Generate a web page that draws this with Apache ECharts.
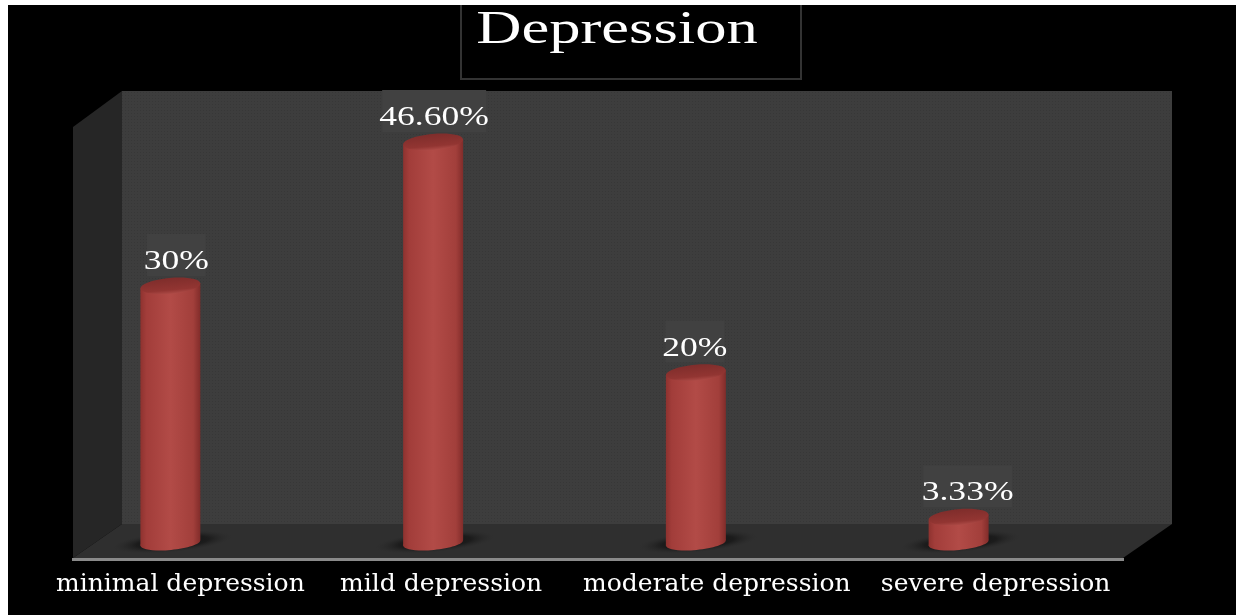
<!DOCTYPE html>
<html>
<head>
<meta charset="utf-8">
<style>html,body{margin:0;padding:0;background:#fff;overflow:hidden}#c{position:absolute;left:8px;top:5px;width:1228px;height:610px;}</style>
<script src="https://cdn.jsdelivr.net/npm/echarts@6/dist/echarts.min.js"></script>
</head>
<body>
<div id="c"></div>
<script>
const titleText = 'Depression';
const categories = ['minimal depression', 'mild depression', 'moderate depression', 'severe depression'];
const values = [30, 46.6, 20, 3.33];
const valueLabels = ['30%', '46.60%', '20%', '3.33%'];
const labelNudge = [6, 1, -1, 9];
const categoryNudge = [10, 8, 21, 37];

const OX = 8, OY = 5; // page offset of chart container
const px = (x) => x - OX, py = (y) => y - OY;
const serif = '"DejaVu Serif", serif';
const thinSerif = '"Liberation Serif", serif';

function dotPattern() {
  const c = document.createElement('canvas');
  c.width = 3; c.height = 3;
  const g = c.getContext('2d');
  g.fillStyle = '#3d3d3d'; g.fillRect(0, 0, 3, 3);
  g.fillStyle = '#373737'; g.fillRect(0, 0, 1, 1);
  return c;
}
const poly = (pts, fill) => ({
  type: 'polygon', silent: true, z: 0,
  shape: { points: pts.map(p => [px(p[0]), py(p[1])]) },
  style: { fill }
});

const bodyGrad = { type: 'linear', x: 0, y: 0, x2: 1, y2: 0, colorStops: [
  { offset: 0, color: '#8e322f' }, { offset: 0.1, color: '#a23d3a' },
  { offset: 0.5, color: '#b24b47' }, { offset: 0.88, color: '#a23f3b' }, { offset: 1, color: '#812c2a' } ] };
const capGrad = { type: 'linear', x: 0, y: 0, x2: 0, y2: 1, colorStops: [
  { offset: 0, color: '#7f2d2b' }, { offset: 0.75, color: '#923532' }, { offset: 1, color: '#ad4a46' } ] };
const shadowGrad = { type: 'radial', x: 0.5, y: 0.5, r: 0.5, colorStops: [
  { offset: 0, color: 'rgba(8,8,8,0.8)' }, { offset: 0.6, color: 'rgba(12,12,12,0.55)' }, { offset: 1, color: 'rgba(40,40,40,0)' } ] };

function renderCylinder(params, api) {
  const i = params.dataIndex;
  const val = api.value(1);
  const top = api.coord([api.value(0), val]);
  const base = api.coord([api.value(0), 0]);
  const cx = top[0], rx = 30, ry = 8;
  const yTop = top[1], yBot = base[1] - 3;
  const tilt = 0.09;
  const rise = rx * Math.sin(tilt);
  const text = valueLabels[i];
  const lx = cx + labelNudge[i], ly = yTop - 24;
  const patchW = text.length * 15 + 14;
  return {
    type: 'group',
    children: [
      { type: 'circle', rotation: tilt, scaleY: 0.17, originX: cx + 2, originY: yBot - 1,
        shape: { cx: cx + 2, cy: yBot - 1, r: 60 }, style: { fill: shadowGrad } },
      { type: 'ellipse', rotation: tilt, originX: cx, originY: yBot, shape: { cx, cy: yBot, rx, ry: 7 }, style: { fill: bodyGrad } },
      { type: 'polygon', shape: { points: [[cx - rx, yTop + rise], [cx + rx, yTop - rise], [cx + rx, yBot - rise], [cx - rx, yBot + rise]] }, style: { fill: bodyGrad } },
      { type: 'ellipse', rotation: tilt, originX: cx, originY: yTop, shape: { cx, cy: yTop, rx, ry }, style: { fill: capGrad } },
      { type: 'rect', shape: { x: lx - patchW / 2, y: ly - 28, width: patchW, height: 42 }, style: { fill: '#414141' } },
      { type: 'text', scaleX: 1.27, originX: lx, originY: ly,
        style: { text, x: lx, y: ly, fill: '#ffffff', font: '400 28px ' + thinSerif, textAlign: 'center', textVerticalAlign: 'middle' } }
    ]
  };
}

const chart = echarts.init(document.getElementById('c'), null, { renderer: 'canvas' });
chart.setOption({
  backgroundColor: '#000000',
  animation: false,
  graphic: [
    poly([[122, 91], [1172, 91], [1172, 524], [122, 524]], { image: dotPattern(), repeat: 'repeat' }),
    poly([[73, 127], [122, 91], [122, 524], [73, 558]], '#262626'),
    poly([[122, 524], [1172, 524], [1123, 558], [73, 558]], '#2f2f2f'),
    { type: 'rect', silent: true, z: 0, shape: { x: px(72), y: py(558), width: 1052, height: 3 }, style: { fill: '#8a8a8a' } },
    { type: 'rect', silent: true, z: 0, shape: { x: px(461), y: -6, width: 340, height: py(79) + 6 }, style: { fill: '#000', stroke: '#333333', lineWidth: 2 } },
    { type: 'text', silent: true, z: 5, scaleX: 1.36, originX: px(617), originY: py(31),
      style: { text: titleText, x: px(617), y: py(31), fill: '#ffffff', font: '400 46px ' + thinSerif, textAlign: 'center', textVerticalAlign: 'middle' } }
  ],
  grid: { left: px(39), top: py(112.5), width: 1051, height: 433.5, containLabel: false },
  xAxis: {
    type: 'category',
    data: categories.map((c, i) => ({ value: c, textStyle: { padding: [0, 0, 0, categoryNudge[i] * 2] } })),
    axisLine: { show: false }, axisTick: { show: false }, splitLine: { show: false },
    axisLabel: { interval: 0, color: '#ffffff', fontFamily: serif, fontSize: 25, margin: 26 }
  },
  yAxis: { type: 'value', min: 0, max: 50, show: false, splitLine: { show: false } },
  series: [{
    type: 'custom', coordinateSystem: 'cartesian2d', z: 3, clip: false,
    encode: { x: 0, y: 1 },
    data: categories.map((c, i) => [i, values[i]]),
    renderItem: renderCylinder
  }]
});
</script>
</body>
</html>
